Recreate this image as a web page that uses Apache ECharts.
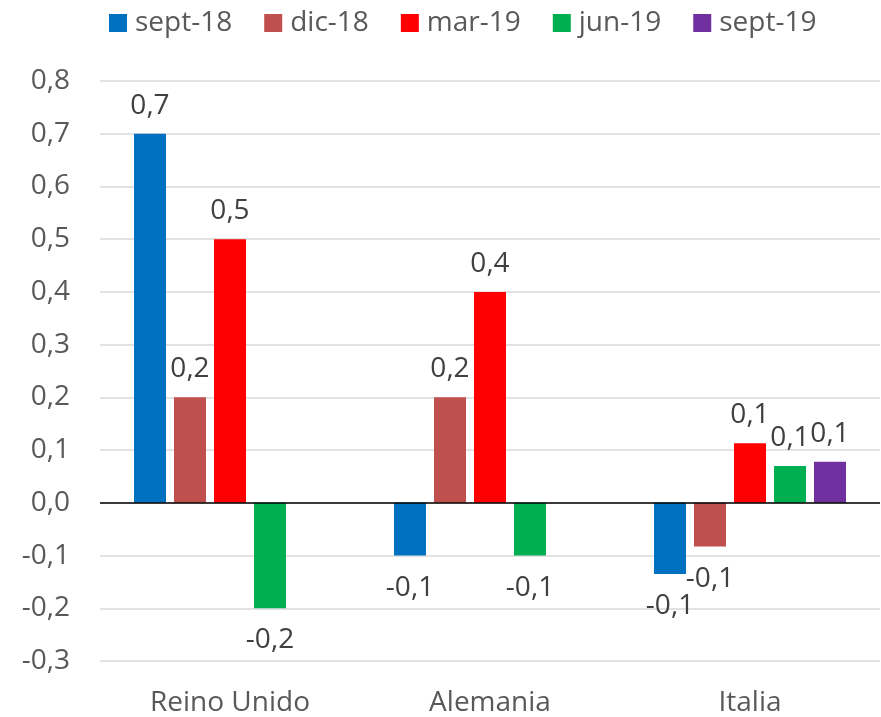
<!DOCTYPE html>
<html>
<head>
<meta charset="utf-8">
<script src="https://cdn.jsdelivr.net/npm/echarts@6/dist/echarts.min.js"></script>
<style>
  html, body { margin: 0; padding: 0; background: #fff; }
  #chart { width: 881px; height: 717px; }
</style>
</head>
<body>
<div id="chart"></div>
<script>
// datos
var paises = ['Reino Unido', 'Alemania', 'Italia'];
var periodos = ['sept-18', 'dic-18', 'mar-19', 'jun-19', 'sept-19'];
var colores = ['#0070C0', '#C0504D', '#FF0000', '#00B050', '#7030A0'];
var sept18 = [0.7, -0.1, -0.135];
var dic18 = [0.2, 0.2, -0.083];
var mar19 = [0.5, 0.4, 0.113];
var jun19 = [-0.2, -0.1, 0.07];
var sept19 = [null, null, 0.078];
var valores = [sept18, dic18, mar19, jun19, sept19];

var fuente = 'Open Sans';

function coma(v, dec) {
  return v.toFixed(dec).replace('.', ',');
}

var series = periodos.map(function (nombre, i) {
  return {
    name: nombre,
    type: 'bar',
    barWidth: 32,
    barGap: '25%',
    itemStyle: { color: colores[i] },
    data: valores[i].map(function (v) {
      if (v === null) return null;
      return {
        value: v,
        label: { position: v < 0 ? 'bottom' : 'top', distance: v < 0 ? 18 : 14 }
      };
    }),
    label: {
      show: true,
      color: '#404040',
      fontFamily: fuente,
      fontSize: 28,
      formatter: function (p) { return coma(p.value, 1); }
    }
  };
});

// linea del cero
series[0].markLine = {
  silent: true,
  symbol: 'none',
  label: { show: false },
  lineStyle: { color: '#000', width: 1.5, type: 'solid' },
  data: [{ yAxis: 0 }]
};

var myChart = echarts.init(document.getElementById('chart'));
var option = {
  animation: false,
  color: colores,
  legend: {
    top: 4,
    left: 104,
    itemWidth: 18,
    itemHeight: 18,
    itemGap: 32,
    icon: 'rect',
    textStyle: { color: '#595959', fontFamily: fuente, fontSize: 28, padding: [0, 0, 0, 3] },
    data: periodos
  },
  grid: { left: 100, right: 1, top: 81, bottom: 56 },
  xAxis: {
    type: 'category',
    data: paises,
    axisLine: { show: false, onZero: false },
    axisTick: { show: false },
    axisLabel: { color: '#595959', fontFamily: fuente, fontSize: 28, margin: 28 }
  },
  yAxis: {
    type: 'value',
    min: -0.3,
    max: 0.8,
    interval: 0.1,
    axisLine: { show: false },
    axisTick: { show: false },
    splitLine: { lineStyle: { color: '#D9D9D9', width: 1.5 } },
    axisLabel: {
      color: '#595959', fontFamily: fuente, fontSize: 28, margin: 30,
      formatter: function (v) { return coma(v, 1); }
    }
  },
  series: series
};
myChart.setOption(option);
</script>
</body>
</html>
